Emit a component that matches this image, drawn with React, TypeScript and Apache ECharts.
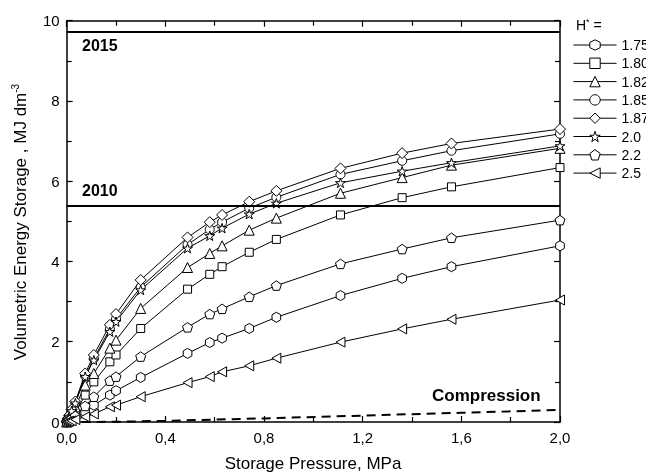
import React, { useEffect, useRef } from "react";
import * as echarts from "echarts";

const pressures = [0, 0.005, 0.01, 0.02, 0.035, 0.075, 0.11, 0.175, 0.2, 0.3, 0.49, 0.58, 0.63, 0.74, 0.85, 1.11, 1.36, 1.56, 2.0];
const h175 = [0, 0.01, 0.03, 0.05, 0.1, 0.25, 0.42, 0.67, 0.78, 1.11, 1.71, 1.98, 2.09, 2.33, 2.61, 3.15, 3.58, 3.87, 4.39];
const h180 = [0, 0.03, 0.06, 0.12, 0.22, 0.67, 1.0, 1.5, 1.67, 2.33, 3.31, 3.68, 3.87, 4.23, 4.55, 5.16, 5.59, 5.86, 6.34];
const h182 = [0, 0.05, 0.1, 0.2, 0.38, 0.92, 1.21, 1.84, 2.04, 2.83, 3.85, 4.2, 4.39, 4.78, 5.08, 5.7, 6.09, 6.4, 6.82];
const h185 = [0, 0.07, 0.15, 0.29, 0.48, 1.15, 1.58, 2.32, 2.57, 3.36, 4.42, 4.8, 4.98, 5.33, 5.6, 6.17, 6.51, 6.76, 7.18];
const h187 = [0, 0.08, 0.16, 0.31, 0.51, 1.21, 1.67, 2.42, 2.69, 3.54, 4.6, 4.98, 5.16, 5.49, 5.76, 6.32, 6.7, 6.94, 7.3];
const h20 = [0, 0.07, 0.14, 0.28, 0.47, 1.13, 1.54, 2.25, 2.5, 3.29, 4.33, 4.64, 4.83, 5.18, 5.45, 5.96, 6.25, 6.46, 6.88];
const h22 = [0, 0.02, 0.04, 0.08, 0.15, 0.4, 0.63, 1.03, 1.13, 1.63, 2.36, 2.69, 2.82, 3.12, 3.4, 3.94, 4.31, 4.59, 5.03];
const h25 = [0, 0.01, 0.02, 0.03, 0.06, 0.13, 0.2, 0.38, 0.42, 0.63, 0.98, 1.13, 1.25, 1.4, 1.59, 1.99, 2.32, 2.56, 3.04];

const compressionP = [0, 0.2, 0.4, 0.8, 1.2, 1.6, 2.0];
const compressionE = [0, 0.005, 0.03, 0.09, 0.16, 0.23, 0.3];

const targetNames = ["2015", "2010"];
const targetValues = [9.72, 5.4];

const seriesNames = ["1.75", "1.80", "1.82", "1.85", "1.87", "2.0", "2.2", "2.5"];
const seriesValues = [h175, h180, h182, h185, h187, h20, h22, h25];

const HEX = "path://M10,0 L18.66,5 L18.66,15 L10,20 L1.34,15 L1.34,5 Z";
const PENT = "path://M10,0 L19.51,6.91 L15.88,18.09 L4.12,18.09 L0.49,6.91 Z";
const STAR = "path://M10,0 L12.23,6.93 L19.51,6.91 L13.61,11.17 L15.88,18.09 L10,13.8 L4.12,18.09 L6.39,11.17 L0.49,6.91 L7.77,6.93 Z";
const LTRI = "path://M0,10 L18,0 L18,20 Z";
const symbols = [HEX, "rect", "triangle", "circle", "diamond", STAR, PENT, LTRI];
const symbolSizes = [10, 8, 10, 9, 11, 10, 10, 10];

const FONT = "'Liberation Sans', Arial, sans-serif";

export default function App() {
  const ref = useRef<HTMLDivElement>(null);
  useEffect(() => {
    if (!ref.current) return;
    const chart = echarts.init(ref.current, undefined, { renderer: "svg" });
    const axisCommon = {
      type: "value" as const,
      axisLine: { show: true, onZero: false, lineStyle: { color: "#000", width: 1.5 } },
      axisTick: { show: true, inside: true, length: 6, lineStyle: { color: "#000", width: 1.2 } },
      minorTick: { show: true, splitNumber: 2, length: 5, lineStyle: { color: "#000", width: 1.2 } },
      splitLine: { show: false },
      minorSplitLine: { show: false },
    };
    const lineSeries = seriesNames.map((name, i) => ({
      name,
      type: "line",
      data: pressures.map((p, j) => [p, seriesValues[i][j]]),
      symbol: symbols[i],
      symbolSize: symbolSizes[i],
      symbolKeepAspect: true,
      showAllSymbol: true,
      lineStyle: { color: "#000", width: 1 },
      itemStyle: { color: "#fff", borderColor: "#000", borderWidth: 1 },
      z: 3,
    }));
    chart.setOption({
      animation: false,
      grid: { left: 66.7, right: 86, top: 20.7, bottom: 51, containLabel: false },
      xAxis: [
        {
          ...axisCommon,
          min: 0,
          max: 2,
          interval: 0.4,
          position: "bottom",
          axisLabel: {
            color: "#000",
            fontSize: 15,
            fontFamily: FONT,
            margin: 8,
            formatter: (v: number) => v.toFixed(1).replace(".", ","),
          },
        },
        {
          ...axisCommon,
          min: 0,
          max: 2,
          interval: 0.4,
          position: "top",
          axisLabel: { show: false },
        },
      ],
      yAxis: [
        {
          ...axisCommon,
          min: 0,
          max: 10,
          interval: 2,
          position: "left",
          axisLabel: { color: "#000", fontSize: 15, fontFamily: FONT, margin: 7 },
        },
        {
          ...axisCommon,
          min: 0,
          max: 10,
          interval: 2,
          position: "right",
          axisLabel: { show: false },
        },
      ],
      legend: {
        data: seriesNames,
        orient: "vertical",
        left: 573,
        top: 38,
        padding: 0,
        itemWidth: 43,
        itemHeight: 13,
        itemGap: 4.3,
        selectedMode: false,
        itemStyle: { color: "#fff", borderColor: "#000", borderWidth: 1 },
        lineStyle: { color: "#000", width: 1 },
        textStyle: { color: "#000", fontSize: 14, fontFamily: FONT, lineHeight: 14 },
      },
      graphic: [
        {
          type: "text",
          left: 576,
          top: 17,
          style: {
            text: "{n|H}{s|*}{n| =}",
            rich: {
              n: { fontSize: 14, fontFamily: FONT, fill: "#000", lineHeight: 16 },
              s: { fontSize: 9, fontFamily: FONT, fill: "#000", verticalAlign: "top", lineHeight: 12 },
            },
          },
        },
        {
          type: "text",
          x: 20,
          y: 222,
          rotation: Math.PI / 2,
          style: {
            text: "{n|Volumetric Energy Storage , MJ dm}{s|-3}",
            align: "center",
            verticalAlign: "middle",
            rich: {
              n: { fontSize: 17, fontFamily: FONT, fill: "#000", lineHeight: 20 },
              s: { fontSize: 10, fontFamily: FONT, fill: "#000", verticalAlign: "top", lineHeight: 14 },
            },
          },
        },
        {
          type: "text",
          x: 313,
          y: 463,
          style: {
            text: "Storage Pressure, MPa",
            align: "center",
            verticalAlign: "middle",
            fontSize: 17,
            fontFamily: FONT,
            fill: "#000",
          },
        },
        {
          type: "text",
          x: 82,
          y: 45,
          style: { text: targetNames[0], fontSize: 16, fontWeight: "bold", fontFamily: FONT, fill: "#000", verticalAlign: "middle" },
        },
        {
          type: "text",
          x: 82,
          y: 190,
          style: { text: targetNames[1], fontSize: 16, fontWeight: "bold", fontFamily: FONT, fill: "#000", verticalAlign: "middle" },
        },
        {
          type: "text",
          x: 432,
          y: 395,
          style: { text: "Compression", fontSize: 17, fontWeight: "bold", fontFamily: FONT, fill: "#000", verticalAlign: "middle" },
        },
      ],
      series: [
        ...lineSeries,
        {
          name: "Compression",
          type: "line",
          data: compressionP.map((p, j) => [p, compressionE[j]]),
          symbol: "none",
          lineStyle: { color: "#000", width: 2, type: [9, 6] },
          z: 2,
          markLine: {
            silent: true,
            symbol: ["none", "none"],
            label: { show: false },
            lineStyle: { color: "#000", width: 2, type: "solid" },
            data: targetValues.map((v) => ({ yAxis: v })),
          },
        },
      ],
    });
    return () => chart.dispose();
  }, []);
  return <div ref={ref} style={{ position: "fixed", left: 0, top: 0, width: 646, height: 473 }} />;
}
